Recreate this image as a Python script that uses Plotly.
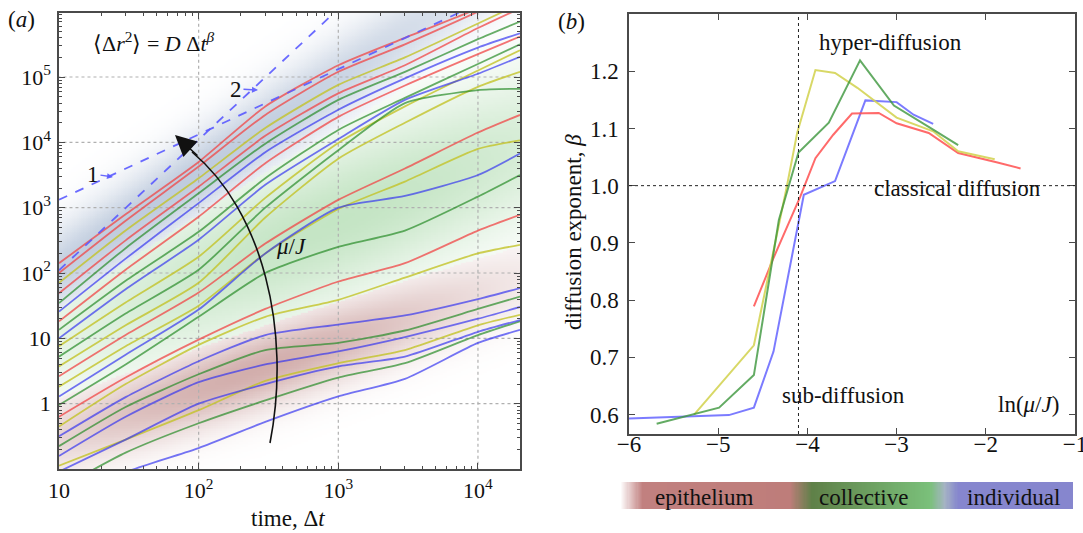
import numpy as np
import plotly.graph_objects as go

# ---------------- panel (a) data : log10 of MSD at times T ----------------
T = [10, 30, 100, 300, 1000, 3000, 10000, 20000]

red_curves = [
    [2.15, 2.90, 3.70, 4.55, 5.18, 5.60, 6.05, 6.35],
    [2.00, 2.80, 3.63, 4.42, 5.08, 5.50, 6.00, 6.30],
    [1.69, 2.50, 3.32, 4.10, 4.75, 5.18, 5.75, 6.05],
    [1.26, 2.05, 2.86, 3.68, 4.39, 4.87, 5.35, 5.62],
    [0.42, 1.05, 1.70, 2.45, 3.12, 3.60, 4.15, 4.42],
    [-0.20, 0.40, 0.98, 1.45, 1.87, 2.15, 2.65, 2.89],
]
yellow_curves = [
    [1.85, 2.65, 3.45, 4.22, 4.88, 5.30, 5.82, 6.12],
    [0.88, 1.55, 2.25, 3.15, 3.99, 4.55, 5.10, 5.41],
    [0.57, 1.20, 1.85, 2.85, 3.75, 4.30, 4.85, 5.08],
    [0.26, 0.88, 1.50, 2.30, 2.98, 3.40, 3.90, 4.03],
    [-0.35, 0.30, 0.90, 1.33, 1.59, 1.93, 2.30, 2.43],
    [-0.95, -0.55, -0.10, 0.35, 0.62, 0.82, 1.20, 1.36],
]
green_curves = [
    [1.54, 2.38, 3.22, 3.98, 4.65, 5.08, 5.58, 5.85],
    [1.13, 1.88, 2.63, 3.45, 4.19, 4.68, 5.20, 5.50],
    [0.72, 1.38, 2.05, 3.00, 3.88, 4.60, 4.80, 4.82],
    [-0.02, 0.60, 1.33, 2.00, 2.40, 2.65, 3.17, 3.50],
    [-0.65, -0.05, 0.45, 0.82, 0.93, 1.12, 1.45, 1.64],
    [-1.30, -0.75, -0.30, 0.05, 0.40, 0.62, 1.05, 1.26],
]
blue_curves = [
    [1.41, 2.22, 3.07, 3.85, 4.50, 4.98, 5.45, 5.67],
    [1.00, 1.75, 2.51, 3.35, 4.05, 4.65, 5.05, 5.31],
    [0.11, 0.75, 1.44, 2.30, 3.00, 3.18, 3.50, 3.83],
    [-0.50, 0.10, 0.65, 1.05, 1.21, 1.35, 1.60, 1.77],
    [-0.80, -0.20, 0.33, 0.60, 0.80, 1.02, 1.30, 1.48],
    [-1.04, -0.55, 0.00, 0.30, 0.57, 0.72, 1.10, 1.28],
    [-1.60, -1.05, -0.68, -0.28, 0.11, 0.38, 0.93, 1.13],
]

guide1_t = [10, 20000]
guide1_msd = [1.32e3, 2.64e6]
guide2_t = [10, 1000]
guide2_msd = [1.1e2, 1.1e6]

a_xtick_vals = [10, 100, 1000, 10000]
a_xtick_text = ["10", "10<sup>2</sup>", "10<sup>3</sup>", "10<sup>4</sup>"]
a_ytick_vals = [1, 10, 100, 1e3, 1e4, 1e5]
a_ytick_text = ["1", "10", "10<sup>2</sup>", "10<sup>3</sup>", "10<sup>4</sup>", "10<sup>5</sup>"]

# ---------------- panel (b) data ----------------
blue_x = [-6.0, -4.88, -4.60, -4.38, -4.04, -3.69, -3.35, -3.0, -2.81, -2.59]
blue_y = [0.593, 0.599, 0.612, 0.71, 0.984, 1.008, 1.149, 1.146, 1.124, 1.108]
red_x = [-4.60, -4.39, -4.08, -3.91, -3.71, -3.50, -3.20, -3.0, -2.64, -2.31, -1.88, -1.61]
red_y = [0.789, 0.870, 0.981, 1.048, 1.089, 1.126, 1.127, 1.109, 1.092, 1.057, 1.041, 1.030]
yellow_x = [-5.27, -4.60, -4.23, -4.115, -3.91, -3.69, -3.44, -3.0, -2.59, -2.31, -1.90]
yellow_y = [0.600, 0.721, 0.999, 1.092, 1.202, 1.197, 1.171, 1.119, 1.095, 1.060, 1.046]
green_x = [-5.69, -4.99, -4.60, -4.38, -4.32, -4.10, -3.76, -3.41, -3.03, -2.59, -2.31]
green_y = [0.584, 0.612, 0.669, 0.888, 0.94, 1.058, 1.11, 1.219, 1.14, 1.098, 1.071]
b_xticks = [-6, -5, -4, -3, -2, -1]
b_yticks = [0.6, 0.7, 0.8, 0.9, 1.0, 1.1, 1.2]
transition_x = -4.1

regime_labels = ["epithelium", "collective", "individual"]

# ---------------- geometry ----------------
W, H = 1083, 533
def px(x):
    return x / W
def py(y):
    return 1 - y / H

FONT = "Liberation Serif, Times New Roman, serif"
AXC = "#4a4a4a"

fig = go.Figure()

# background glow for panel (a) (decorative bands: pink, green, blue-gray)
glow_bands = [
    # c0, slope, width, u0, su, amp
    (-0.50, 0.72, 0.60, 2.4, 1.7, 0.95),
    (1.10, 0.85, 1.20, 3.0, 2.2, 0.85),
    (2.05, 1.45, 0.65, 1.8, 2.7, 0.90),
]
u = np.linspace(1, 4.301, 200)
v = np.linspace(-1, 6, 260)
U, V = np.meshgrid(u, v)
I = np.stack([amp * np.exp(-((V - (c0 + s * (U - 1))) / w) ** 2) * np.exp(-((U - u0) / su) ** 2)
              for (c0, s, w, u0, su, amp) in glow_bands])
Z = I.argmax(0) + np.clip(I.max(0), 0, 0.999)
glow_scale = [[0, "rgb(255,255,255)"], [1 / 3, "rgb(208,170,168)"],
              [1 / 3, "rgb(255,255,255)"], [2 / 3, "rgb(186,224,186)"],
              [2 / 3, "rgb(255,255,255)"], [1, "rgb(184,198,218)"]]
fig.add_trace(go.Heatmap(x=10 ** u, y=10 ** v, z=Z, zmin=0, zmax=3, colorscale=glow_scale,
                         showscale=False, hoverinfo="skip", xaxis="x", yaxis="y"))

# dotted grid (as traces so it sits above the glow)
gx, gy = [], []
for t in a_xtick_vals[1:]:
    gx += [t, t, None]
    gy += [0.05, 2e6, None]
for yv in a_ytick_vals:
    gx += [8, 3e4, None]
    gy += [yv, yv, None]
fig.add_trace(go.Scatter(x=gx, y=gy, mode="lines", line=dict(color="#b0b0b0", width=1.2, dash="dot"),
                         hoverinfo="skip", showlegend=False, xaxis="x", yaxis="y"))

colmap = [("rgba(240,70,70,0.75)", red_curves), ("rgba(195,195,40,0.8)", yellow_curves),
          ("rgba(40,140,40,0.7)", green_curves), ("rgba(50,50,240,0.68)", blue_curves)]
for col, group in colmap:
    for c in group:
        fig.add_trace(go.Scatter(x=T, y=10 ** np.array(c), mode="lines",
                                 line=dict(color=col, width=1.8, shape="spline", smoothing=0.6),
                                 hoverinfo="skip", showlegend=False, xaxis="x", yaxis="y"))

for gt, gm in [(guide1_t, guide1_msd), (guide2_t, guide2_msd)]:
    fig.add_trace(go.Scatter(x=gt, y=gm, mode="lines",
                             line=dict(color="rgba(90,90,255,0.9)", width=1.8, dash="dash"),
                             hoverinfo="skip", showlegend=False, xaxis="x", yaxis="y"))

# panel (b) lines
for xs, ys, col in [(blue_x, blue_y, "rgba(90,90,255,0.8)"), (red_x, red_y, "rgba(255,80,80,0.85)"),
                    (yellow_x, yellow_y, "rgba(212,212,85,0.9)"), (green_x, green_y, "rgba(60,150,60,0.8)")]:
    fig.add_trace(go.Scatter(x=xs, y=ys, mode="lines", line=dict(color=col, width=2),
                             hoverinfo="skip", showlegend=False, xaxis="x2", yaxis="y2"))

# regime colour bar
bar_pos = np.linspace(0, 1, 400)
bar_scale = [[0, "rgb(255,255,255)"], [0.05, "rgb(193,128,127)"], [0.375, "rgb(190,125,122)"],
             [0.424, "rgb(95,128,72)"], [0.684, "rgb(122,192,122)"], [0.717, "rgb(165,180,195)"],
             [0.746, "rgb(134,134,206)"], [1, "rgb(134,134,206)"]]
fig.add_trace(go.Heatmap(x=bar_pos, y=[0], z=[bar_pos], zmin=0, zmax=1, colorscale=bar_scale,
                         showscale=False, hoverinfo="skip", xaxis="x3", yaxis="y3"))

# minor ticks for log axes
minor_x = [m * 10 ** d for d in range(1, 5) for m in range(2, 10) if m * 10 ** d <= 20000]
minor_y = [m * 10 ** d for d in range(-1, 6) for m in range(2, 10)]

def axis_common(size):
    return dict(showline=True, linecolor=AXC, linewidth=1.5, mirror="allticks", ticks="inside",
                tickcolor=AXC, ticklen=6, showgrid=False, zeroline=False, automargin=False,
                ticklabeloverflow="allow",
                tickfont=dict(family=FONT, size=size, color="#111"))

fig.update_layout(
    template="none",
    width=W, height=H, margin=dict(l=0, r=0, t=0, b=0, pad=0),
    paper_bgcolor="white", plot_bgcolor="rgba(0,0,0,0)", showlegend=False,
    font=dict(family=FONT, size=22, color="#111"),
    xaxis=dict(type="log", range=[1, 4.301], domain=[px(59), px(520)], anchor="y",
               tickvals=a_xtick_vals, ticktext=a_xtick_text, ticklabelstandoff=1,
               minor=dict(ticks="inside", ticklen=3, tickcolor=AXC, tickvals=minor_x), **axis_common(22)),
    yaxis=dict(type="log", range=[-1, 5.98], domain=[py(469), py(13)], anchor="x",
               tickvals=a_ytick_vals, ticktext=a_ytick_text, ticklabelstandoff=2,
               minor=dict(ticks="inside", ticklen=3, tickcolor=AXC, tickvals=minor_y), **axis_common(22)),
    xaxis2=dict(range=[-6, -1], domain=[px(629), px(1075)], anchor="y2",
                tickvals=b_xticks, ticklabelstandoff=-11, **axis_common(23)),
    yaxis2=dict(range=[0.566, 1.30], domain=[py(434), py(14)], anchor="x2",
                tickvals=b_yticks, tickformat=".1f", ticklabelstandoff=4, **axis_common(23)),
    xaxis3=dict(range=[0, 1], domain=[px(620), px(1073)], anchor="y3", visible=False, automargin=False),
    yaxis3=dict(range=[-0.5, 0.5], domain=[py(509), py(482)], anchor="x3", visible=False, automargin=False),
)

# panel (b) reference lines
fig.add_shape(type="line", xref="x2", yref="y2 domain", x0=transition_x, x1=transition_x, y0=0, y1=1,
              line=dict(color="#222", width=1, dash="dot"))
fig.add_shape(type="line", xref="x2 domain", yref="y2", x0=0, x1=1, y0=1.0, y1=1.0,
              line=dict(color="#222", width=1, dash="dot"))

# curved mu/J arrow in panel (a)
P0, C1, C2, P1 = (270, 443), (292, 330), (262, 210), (192, 152)
path = "M {},{} C {},{} {},{} {},{}".format(px(P0[0]), py(P0[1]), px(C1[0]), py(C1[1]),
                                             px(C2[0]), py(C2[1]), px(P1[0]), py(P1[1]))
fig.add_shape(type="path", xref="paper", yref="paper", path=path, line=dict(color="#111", width=1.6))

def ann(text, x, y, size=23, **kw):
    d = dict(text=text, x=x, y=y, xref="paper", yref="paper", showarrow=False,
             font=dict(family=FONT, size=size, color="#111"), xanchor="center", yanchor="middle")
    d.update(kw)
    fig.add_annotation(**d)

fig.add_annotation(x=px(175), y=py(135), xref="paper", yref="paper", ax=24, ay=22, text="",
                   showarrow=True, arrowhead=2, arrowsize=3, arrowwidth=1.4, arrowcolor="#111")

ann("(<i>a</i>)", px(21), py(20))
ann("(<i>b</i>)", px(571), py(21))
ann("⟨Δ<i>r</i><sup>2</sup>⟩ = <i>D</i> Δ<i>t</i><sup><i>β</i></sup>", px(154), py(42), size=22)
ann("<i>μ</i>/<i>J</i>", px(291), py(246))
ann("time, Δ<i>t</i>", px(288), py(518))
ann("diffusion exponent, <i>β</i>", px(573), py(232), textangle=-90)

# small guide labels with arrows
fig.add_annotation(x=px(113), y=py(177), xref="paper", yref="paper", ax=-20, ay=-3, text="1",
                   showarrow=True, arrowhead=2, arrowsize=0.8, arrowwidth=1.5,
                   arrowcolor="rgba(90,90,255,0.9)", font=dict(family=FONT, size=23, color="#111"))
fig.add_annotation(x=px(258), y=py(90), xref="paper", yref="paper", ax=-22, ay=-1, text="2",
                   showarrow=True, arrowhead=2, arrowsize=0.8, arrowwidth=1.5,
                   arrowcolor="rgba(90,90,255,0.9)", font=dict(family=FONT, size=23, color="#111"))

# panel (b) regime texts
ann("hyper-diffusion", -3.07, 1.25, xref="x2", yref="y2")
ann("classical diffusion", -2.32, 0.995, xref="x2", yref="y2")
ann("sub-diffusion", -3.6, 0.634, xref="x2", yref="y2")
ann("ln(<i>μ</i>/<i>J</i>)", -1.52, 0.617, xref="x2", yref="y2")

for lab, cx in zip(regime_labels, [704, 863, 1013]):
    ann(lab, px(cx), py(497))

fig.write_html("out.html", config={"displayModeBar": False},
               post_script="document.body.style.margin='0px';")
